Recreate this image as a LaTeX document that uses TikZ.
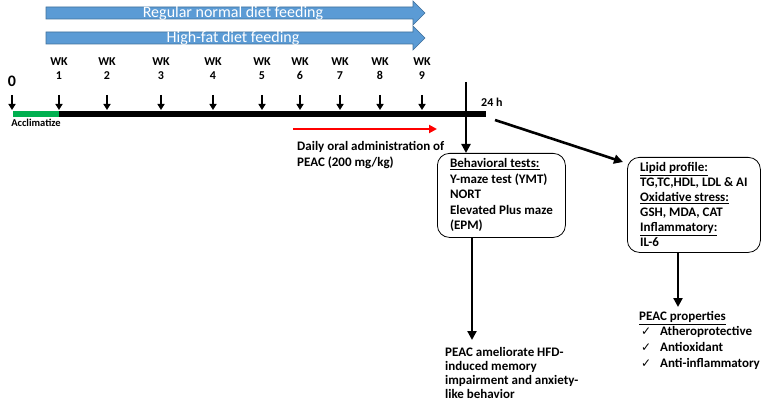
\documentclass[tikz,border=0pt]{standalone}
\usepackage{fontspec}
\setmainfont{Carlito}
\newfontfamily\djv{DejaVu Sans}
\usetikzlibrary{arrows.meta}
\definecolor{bluefill}{HTML}{5B9BD5}
\definecolor{blueline}{HTML}{41719C}
\definecolor{accgreen}{HTML}{00B050}
\begin{document}
\begin{tikzpicture}[x=1pt,y=-1pt,
  font=\bfseries\fontsize{13}{15.5}\selectfont,
  darr/.style={-{Triangle[length=9pt,width=9pt]}, line width=2.6pt},
  tarr/.style={-{Triangle[length=6pt,width=7pt]}, line width=1.8pt},
  wk/.style={font=\bfseries\fontsize{12}{14}\selectfont, align=center, inner sep=0pt},
  box/.style={draw, rounded corners=12pt, line width=0.8pt, anchor=north west, align=left, inner sep=0pt},
  txt/.style={anchor=north west, inner sep=0pt, align=left},
  feed/.style={fill=bluefill, draw=blueline, line width=0.6pt},
  feedtxt/.style={text=white, font=\fontsize{16}{18}\selectfont, inner sep=0pt}]
\useasboundingbox (0,0) rectangle (762,403);
% blue feeding arrows
\draw[feed] (46,7) -- (413,7) -- (413,1) -- (425,13) -- (413,25) -- (413,19) -- (46,19) -- cycle;
\node[feedtxt] (regular) at (233,13) {Regular normal diet feeding};
\draw[feed] (46,32) -- (413,32) -- (413,26) -- (425,38) -- (413,50) -- (413,44) -- (46,44) -- cycle;
\node[feedtxt] (highfat) at (233,38) {High-fat diet feeding};
% timeline
\coordinate (t0) at (13,114);
\coordinate (t1) at (59,114);
\coordinate (tend) at (486,114);
\draw[accgreen, line width=5.5pt] (t0) -- (t1);
\draw[black, line width=5.5pt] (t1) -- (tend);
\node[font=\bfseries\fontsize{16}{18}\selectfont, inner sep=0pt] (zero) at (12,81) {0};
\coordinate (a0) at (12,95);
\coordinate (b0) at (12,110);
\draw[tarr] (a0) -- (b0);
\foreach \i/\x in {1/59,2/107,3/161,4/213,5/262,6/300,7/340,8/380,9/422}{
  \node[wk] (wk\i) at (\x,69) {WK\\\i};
  \coordinate (a\i) at (\x,95);
  \coordinate (b\i) at (\x,110);
  \draw[tarr] (a\i) -- (b\i);
}
\node[font=\bfseries\fontsize{10.5}{12}\selectfont, inner sep=0pt] (accl) at (36,123) {Acclimatize};
\node[anchor=west, inner sep=0pt, font=\bfseries\fontsize{12}{13}\selectfont] (h24) at (481,102) {24 h};
% red arrow
\coordinate (r0) at (293,129);
\coordinate (r1) at (437,129);
\draw[red, line width=2pt, -{Triangle[length=8pt,width=8pt]}] (r0) -- (r1);
\node[txt, font=\bfseries\fontsize{13}{16.5}\selectfont] (daily) at (297,141) {Daily oral administration of\\PEAC (200 mg/kg)};
% boxes
\node[box, minimum width=128pt, minimum height=84pt] (beh) at (437,153)
  {\underline{Behavioral tests:}\\Y-maze test (YMT)\\NORT\\Elevated Plus maze\\(EPM)};
\node[box, minimum width=133pt, minimum height=95pt, font=\bfseries\fontsize{13}{15}\selectfont] (lip) at (627,157)
  {\underline{Lipid profile:}\\TG,TC,HDL, LDL \& AI\\\underline{Oxidative stress:}\\GSH, MDA, CAT\\\underline{Inflammatory:}\\IL-6};
% connectors
\coordinate (vtop) at (466,82);
\draw[line width=2.6pt] (vtop) -- (466,123);
\draw[darr] (466,120) -- (vtop |- beh.north);
\coordinate (dstart) at (495,120);
\draw[darr] (dstart) -- ([shift={(-4,5)}]lip.north west);
\coordinate (cend) at (472,340);
\draw[darr] (beh.south -| cend) -- (cend);
\coordinate (pend) at (678,307);
\draw[darr] (lip.south -| pend) -- (pend);
% conclusions
\node[txt, font=\bfseries\fontsize{13}{14}\selectfont] (concl) at (445,347)
  {PEAC ameliorate HFD-\\induced memory\\impairment and anxiety-\\like behavior};
\node[txt] (props) at (639,311) {\underline{PEAC properties}};
\node[txt, font=\bfseries\fontsize{13}{16}\selectfont] (items) at (641,326)
  {\makebox[19pt][l]{\djv\mdseries\fontsize{12}{10}\selectfont ✓}Atheroprotective\\
   \makebox[19pt][l]{\djv\mdseries\fontsize{12}{10}\selectfont ✓}Antioxidant\\
   \makebox[19pt][l]{\djv\mdseries\fontsize{12}{10}\selectfont ✓}Anti-inflammatory};
\end{tikzpicture}
\end{document}
